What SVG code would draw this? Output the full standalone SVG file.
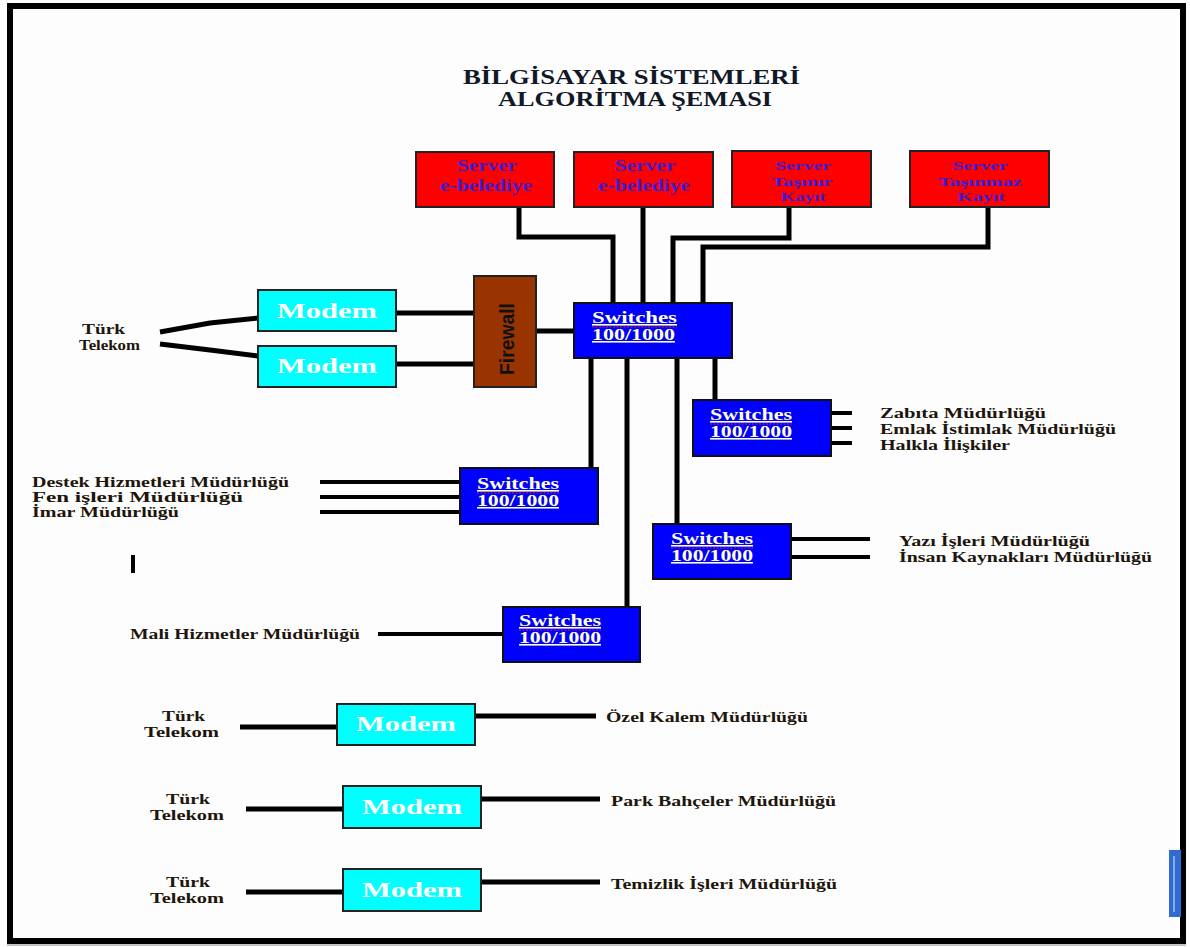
<svg xmlns="http://www.w3.org/2000/svg" width="1190" height="947" viewBox="0 0 1190 947">
<style>
.lbl{font-family:"Liberation Serif",serif;font-weight:bold;font-size:14px;fill:#1e160c}
.title{font-family:"Liberation Serif",serif;font-weight:bold;font-size:20px;fill:#111827}
.srv{fill:#ff0000;stroke:#222;stroke-width:2}
.srvt{font-family:"Liberation Serif",serif;font-weight:bold;font-size:17px;fill:#3a1fd0;text-anchor:middle}
.srvs{font-family:"Liberation Serif",serif;font-weight:bold;font-size:13px;fill:#3a1fd0;text-anchor:middle}
.sw{fill:#0000ff;stroke:#111;stroke-width:2}
.swt{font-family:"Liberation Serif",serif;font-weight:bold;font-size:16px;fill:#ffffcc;text-decoration:underline}
.mod{fill:#00ffff;stroke:#222;stroke-width:2}
.modt{font-family:"Liberation Serif",serif;font-weight:bold;font-size:22px;fill:#ffffff;text-anchor:middle}
.ln{fill:none;stroke:#000;stroke-width:5}
.ln4{fill:none;stroke:#000;stroke-width:4}
.wavy{fill:none;stroke:#e02020;stroke-width:1.2;stroke-dasharray:2 1.5}
</style>
<rect x="0" y="0" width="1190" height="947" fill="#fdfdfd"/>
<rect x="10" y="6" width="1173" height="935" fill="none" stroke="#000" stroke-width="6"/>
<line x1="7" y1="945" x2="1186" y2="945" stroke="#888" stroke-width="1"/>
<rect x="1169" y="850" width="12" height="67" fill="#2f6bd3"/>
<line x1="1174" y1="856" x2="1174" y2="912" stroke="#a8c4f0" stroke-width="1.5"/>

<g id="title">
<text class="title" x="463" y="84" textLength="337" lengthAdjust="spacingAndGlyphs">BİLGİSAYAR SİSTEMLERİ</text>
<text class="title" x="498" y="106" textLength="274" lengthAdjust="spacingAndGlyphs">ALGORİTMA ŞEMASI</text>
</g>

<g id="connectors">
<path class="ln" d="M519 207 V237 H613 V303"/>
<path class="ln" d="M643 207 V303"/>
<path class="ln" d="M789 207 V238 H673 V303"/>
<path class="ln" d="M988 207 V247 H703 V303"/>
<path class="ln" d="M536 331 H574"/>
<path class="ln" d="M396 313 H476"/>
<path class="ln" d="M396 364 H491"/>
<path class="ln" d="M160 332 L210 323 L258 318"/>
<path class="ln" d="M160 344 L210 350 L258 356"/>
<path class="ln" d="M591 357 V468"/>
<path class="ln" d="M627 357 V606"/>
<path class="ln" d="M677 357 V524"/>
<path class="ln" d="M715 357 V400"/>
<path class="ln4" d="M831 413 H852 M831 428 H852 M831 443 H852"/>
<path class="ln4" d="M320 482 H460 M320 497 H460 M320 512 H460"/>
<path class="ln4" d="M791 539 H870 M791 557 H870"/>
<path class="ln4" d="M378 634 H503"/>
<path class="ln4" d="M133 555 V573"/>
<path class="ln" d="M240 727 H337 M475 716 H596"/>
<path class="ln" d="M246 809 H343 M481 799 H600"/>
<path class="ln" d="M246 892 H343 M481 882 H600"/>
</g>

<g id="server1">
<rect class="srv" x="416" y="152" width="138" height="55"/>
<text class="srvt" x="487" y="171" textLength="60" lengthAdjust="spacingAndGlyphs">Server</text>
<text class="srvt" x="486" y="191" textLength="92" lengthAdjust="spacingAndGlyphs">e-belediye</text>
</g>
<g id="server2">
<rect class="srv" x="574" y="152" width="139" height="55"/>
<text class="srvt" x="645" y="171" textLength="61" lengthAdjust="spacingAndGlyphs">Server</text>
<text class="srvt" x="644" y="191" textLength="92" lengthAdjust="spacingAndGlyphs">e-belediye</text>
</g>
<g id="server3">
<rect class="srv" x="732" y="151" width="139" height="56"/>
<text class="srvs" x="803" y="170" textLength="56" lengthAdjust="spacingAndGlyphs">Server</text>
<text class="srvs" x="802" y="186" textLength="61" lengthAdjust="spacingAndGlyphs">Taşınır</text>
<text class="srvs" x="803" y="201" textLength="45" lengthAdjust="spacingAndGlyphs">Kayıt</text>
</g>
<g id="server4">
<rect class="srv" x="910" y="151" width="139" height="56"/>
<text class="srvs" x="980" y="170" textLength="55" lengthAdjust="spacingAndGlyphs">Server</text>
<text class="srvs" x="980" y="186" textLength="84" lengthAdjust="spacingAndGlyphs">Taşınmaz</text>
<text class="srvs" x="981" y="201" textLength="48" lengthAdjust="spacingAndGlyphs">Kayıt</text>
</g>

<g id="telekom-main">
<text class="lbl" x="82" y="334" textLength="43" lengthAdjust="spacingAndGlyphs">Türk</text>
<text class="lbl" x="79" y="350" textLength="61" lengthAdjust="spacingAndGlyphs">Telekom</text>
</g>
<g id="modem1">
<rect class="mod" x="258" y="290" width="138" height="41"/>
<text class="modt" x="327" y="318" textLength="100" lengthAdjust="spacingAndGlyphs">Modem</text>
</g>
<g id="modem2">
<rect class="mod" x="258" y="346" width="138" height="41"/>
<text class="modt" x="327" y="373" textLength="100" lengthAdjust="spacingAndGlyphs">Modem</text>
</g>
<g id="firewall">
<rect x="474" y="276" width="62" height="111" fill="#993300" stroke="#222" stroke-width="2"/>
<text x="0" y="0" transform="translate(514 339) rotate(-90)" text-anchor="middle" font-family="Liberation Sans, sans-serif" font-weight="bold" font-size="20" fill="#111" textLength="72" lengthAdjust="spacingAndGlyphs">Firewall</text>
</g>

<g id="switch-main">
<rect class="sw" x="574" y="303" width="158" height="55"/>
<text class="swt" x="592" y="323" textLength="85" lengthAdjust="spacingAndGlyphs">Switches</text>
<text class="swt" x="592" y="340" textLength="83" lengthAdjust="spacingAndGlyphs">100/1000</text>
<line class="wavy" x1="592" y1="327" x2="677" y2="327"/>
</g>
<g id="switch-zabita">
<rect class="sw" x="693" y="400" width="138" height="56"/>
<text class="swt" x="710" y="420" textLength="82" lengthAdjust="spacingAndGlyphs">Switches</text>
<text class="swt" x="710" y="437" textLength="82" lengthAdjust="spacingAndGlyphs">100/1000</text>
<line class="wavy" x1="710" y1="424" x2="792" y2="424"/>
</g>
<g id="switch-destek">
<rect class="sw" x="460" y="468" width="138" height="56"/>
<text class="swt" x="477" y="489" textLength="82" lengthAdjust="spacingAndGlyphs">Switches</text>
<text class="swt" x="477" y="506" textLength="82" lengthAdjust="spacingAndGlyphs">100/1000</text>
<line class="wavy" x1="477" y1="493" x2="559" y2="493"/>
</g>
<g id="switch-yazi">
<rect class="sw" x="653" y="524" width="138" height="55"/>
<text class="swt" x="671" y="544" textLength="82" lengthAdjust="spacingAndGlyphs">Switches</text>
<text class="swt" x="671" y="561" textLength="82" lengthAdjust="spacingAndGlyphs">100/1000</text>
<line class="wavy" x1="671" y1="548" x2="753" y2="548"/>
</g>
<g id="switch-mali">
<rect class="sw" x="503" y="607" width="137" height="55"/>
<text class="swt" x="519" y="626" textLength="82" lengthAdjust="spacingAndGlyphs">Switches</text>
<text class="swt" x="519" y="643" textLength="82" lengthAdjust="spacingAndGlyphs">100/1000</text>
<line class="wavy" x1="519" y1="630" x2="601" y2="630"/>
</g>

<g id="labels-zabita">
<text class="lbl" x="880" y="418" textLength="166" lengthAdjust="spacingAndGlyphs">Zabıta  Müdürlüğü</text>
<text class="lbl" x="880" y="434" textLength="236" lengthAdjust="spacingAndGlyphs">Emlak İstimlak Müdürlüğü</text>
<text class="lbl" x="880" y="450" textLength="130" lengthAdjust="spacingAndGlyphs">Halkla İlişkiler</text>
</g>
<g id="labels-destek">
<text class="lbl" x="32" y="487" textLength="257" lengthAdjust="spacingAndGlyphs">Destek Hizmetleri Müdürlüğü</text>
<text class="lbl" x="32" y="502" textLength="211" lengthAdjust="spacingAndGlyphs">Fen işleri Müdürlüğü</text>
<text class="lbl" x="32" y="517" textLength="147" lengthAdjust="spacingAndGlyphs">İmar Müdürlüğü</text>
</g>
<g id="labels-yazi">
<text class="lbl" x="899" y="546" textLength="191" lengthAdjust="spacingAndGlyphs">Yazı İşleri Müdürlüğü</text>
<text class="lbl" x="899" y="562" textLength="253" lengthAdjust="spacingAndGlyphs">İnsan Kaynakları Müdürlüğü</text>
</g>
<g id="label-mali">
<text class="lbl" x="130" y="639" textLength="230" lengthAdjust="spacingAndGlyphs">Mali Hizmetler Müdürlüğü</text>
</g>

<g id="row-ozel">
<text class="lbl" x="162" y="721" textLength="43" lengthAdjust="spacingAndGlyphs">Türk</text>
<text class="lbl" x="144" y="737" textLength="75" lengthAdjust="spacingAndGlyphs">Telekom</text>
<rect class="mod" x="337" y="704" width="138" height="41"/>
<text class="modt" x="406" y="731" textLength="100" lengthAdjust="spacingAndGlyphs">Modem</text>
<text class="lbl" x="606" y="722" textLength="202" lengthAdjust="spacingAndGlyphs">Özel Kalem Müdürlüğü</text>
</g>
<g id="row-park">
<text class="lbl" x="166" y="804" textLength="44" lengthAdjust="spacingAndGlyphs">Türk</text>
<text class="lbl" x="150" y="820" textLength="74" lengthAdjust="spacingAndGlyphs">Telekom</text>
<rect class="mod" x="343" y="786" width="138" height="42"/>
<text class="modt" x="412" y="814" textLength="100" lengthAdjust="spacingAndGlyphs">Modem</text>
<text class="lbl" x="611" y="806" textLength="225" lengthAdjust="spacingAndGlyphs">Park Bahçeler Müdürlüğü</text>
</g>
<g id="row-temizlik">
<text class="lbl" x="166" y="887" textLength="44" lengthAdjust="spacingAndGlyphs">Türk</text>
<text class="lbl" x="150" y="903" textLength="74" lengthAdjust="spacingAndGlyphs">Telekom</text>
<rect class="mod" x="343" y="869" width="138" height="42"/>
<text class="modt" x="412" y="897" textLength="100" lengthAdjust="spacingAndGlyphs">Modem</text>
<text class="lbl" x="611" y="889" textLength="226" lengthAdjust="spacingAndGlyphs">Temizlik İşleri Müdürlüğü</text>
</g>
</svg>
